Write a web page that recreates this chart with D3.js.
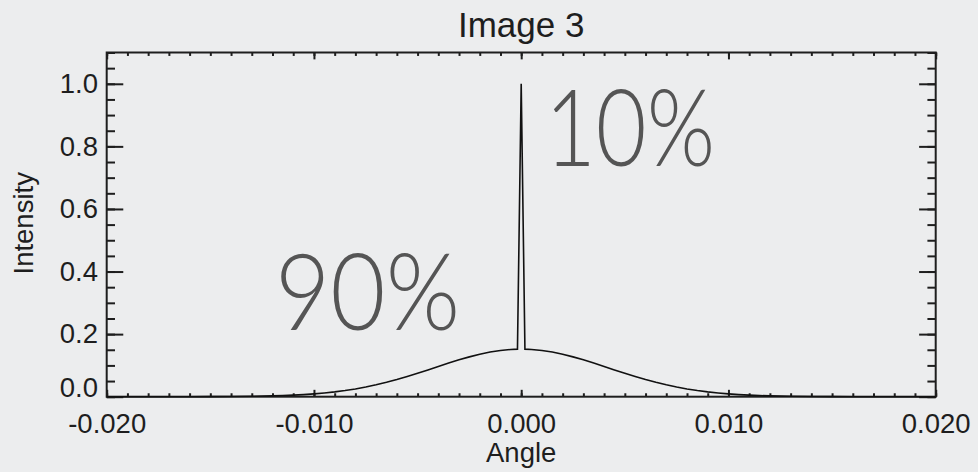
<!DOCTYPE html>
<html>
<head>
<meta charset="utf-8">
<script src="https://cdn.jsdelivr.net/npm/d3@7"></script>
<style>
  html, body { margin: 0; padding: 0; background: #ecedee; }
  svg { display: block; }
</style>
</head>
<body>
<script>
// ---- data ----
const angle = [-0.020, -0.016, -0.015, -0.014, -0.013, -0.012, -0.0115, -0.011, -0.0105, -0.010, -0.0095, -0.009, -0.0085, -0.008, -0.0075, -0.007, -0.0065, -0.006, -0.0055, -0.005, -0.0045, -0.004, -0.0035, -0.003, -0.0025, -0.002, -0.0015, -0.001, -0.0005, -0.00018, 0.0, 0.00018, 0.0005, 0.001, 0.0015, 0.002, 0.0025, 0.003, 0.0035, 0.004, 0.0045, 0.005, 0.0055, 0.006, 0.0065, 0.007, 0.0075, 0.008, 0.0085, 0.009, 0.0095, 0.010, 0.0105, 0.011, 0.0115, 0.012, 0.013, 0.014, 0.015, 0.016, 0.020];
const intensity = [0.0, 0.0, 0.0002, 0.0006, 0.0013, 0.0026, 0.0036, 0.0049, 0.0067, 0.0089, 0.0118, 0.0153, 0.0196, 0.0248, 0.0309, 0.0379, 0.0459, 0.0548, 0.0645, 0.0748, 0.0856, 0.0966, 0.1074, 0.1178, 0.1273, 0.1357, 0.1426, 0.1478, 0.1509, 0.152, 1.0, 0.152, 0.1509, 0.1478, 0.1426, 0.1357, 0.1273, 0.1178, 0.1074, 0.0966, 0.0856, 0.0748, 0.0645, 0.0548, 0.0459, 0.0379, 0.0309, 0.0248, 0.0196, 0.0153, 0.0118, 0.0089, 0.0067, 0.0049, 0.0036, 0.0026, 0.0013, 0.0006, 0.0002, 0.0, 0.0];

const xTicks = [-0.020, -0.010, 0.000, 0.010, 0.020];
const xTickLabels = ["-0.020", "-0.010", "0.000", "0.010", "0.020"];
const yTicks = [0.0, 0.2, 0.4, 0.6, 0.8, 1.0];
const yTickLabels = ["0.0", "0.2", "0.4", "0.6", "0.8", "1.0"];
const xDomain = [-0.020, 0.020];
const yDomain = [0.0, 1.1];
const xMinorStep = 0.001;
const yMinorStep = 0.05;

const titleText = "Image 3";
const xTitle = "Angle";
const yTitle = "Intensity";
const annotations = [
  { text: "10%", x: 545, y: 166, w: 170 },
  { text: "90%", x: 275, y: 330, w: 185 }
];

// ---- layout ----
const W = 978, H = 472;
const margin = { left: 106.7, right: 42.3, top: 52.5, bottom: 75.3 };
const iw = W - margin.left - margin.right;
const ih = H - margin.top - margin.bottom;
const font = "'Liberation Sans', Arial, Helvetica, sans-serif";
const ink = "#1e1e1e";

const svg = d3.select("body").append("svg").attr("width", W).attr("height", H);
svg.append("rect").attr("width", W).attr("height", H).attr("fill", "#ecedee");

const g = svg.append("g").attr("transform", `translate(${margin.left},${margin.top})`);

const x = d3.scaleLinear().domain(xDomain).range([0, iw]);
const y = d3.scaleLinear().domain(yDomain).range([ih, 0]);

const xMinor = d3.range(Math.round((xDomain[1] - xDomain[0]) / xMinorStep) + 1).map(i => xDomain[0] + i * xMinorStep);
const yMinor = d3.range(Math.round((yDomain[1] - yDomain[0]) / yMinorStep) + 1).map(i => yDomain[0] + i * yMinorStep);

const majX = 0.02 * ih, minX = majX / 2;
const majY = 0.02 * iw, minY = majY / 2;

function styleAxis(sel) {
  sel.select(".domain").remove();
  sel.selectAll(".tick line").attr("stroke", ink).attr("stroke-width", 2);
  sel.selectAll("text").attr("fill", ink).attr("font-family", font).attr("font-size", 27.5);
}

// bottom minor
g.append("g").attr("transform", `translate(0,${ih})`)
  .call(d3.axisBottom(x).tickValues(xMinor).tickSize(-minX).tickFormat(""))
  .call(styleAxis);
// bottom major with labels
g.append("g").attr("transform", `translate(0,${ih})`)
  .call(d3.axisBottom(x).tickValues(xTicks).tickSize(-majX).tickPadding(16.5)
    .tickFormat((d, i) => xTickLabels[i]))
  .call(styleAxis);
// top minor + major
g.append("g").call(d3.axisTop(x).tickValues(xMinor).tickSize(-minX).tickFormat("")).call(styleAxis);
g.append("g").call(d3.axisTop(x).tickValues(xTicks).tickSize(-majX).tickFormat("")).call(styleAxis);

// left minor + major
g.append("g").call(d3.axisLeft(y).tickValues(yMinor).tickSize(-minY).tickFormat("")).call(styleAxis);
const yl = g.append("g").call(d3.axisLeft(y).tickValues(yTicks).tickSize(-majY).tickPadding(8.7)
  .tickFormat((d, i) => yTickLabels[i])).call(styleAxis);
yl.selectAll(".tick text").filter(d => d === 0).attr("dy", "-0.02em");
// right minor + major
g.append("g").attr("transform", `translate(${iw},0)`)
  .call(d3.axisRight(y).tickValues(yMinor).tickSize(-minY).tickFormat("")).call(styleAxis);
g.append("g").attr("transform", `translate(${iw},0)`)
  .call(d3.axisRight(y).tickValues(yTicks).tickSize(-majY).tickFormat("")).call(styleAxis);

// frame
g.append("rect").attr("width", iw).attr("height", ih)
  .attr("fill", "none").attr("stroke", ink).attr("stroke-width", 2);

// annotations (behind curve)
svg.selectAll("text.anno").data(annotations).enter().append("text")
  .attr("class", "anno")
  .attr("x", d => d.x).attr("y", d => d.y)
  .attr("textLength", d => d.w).attr("lengthAdjust", "spacingAndGlyphs")
  .attr("font-family", "Lato, 'Noto Sans', sans-serif").attr("font-weight", 300)
  .attr("font-size", 107).attr("fill", "#555555")
  .text(d => d.text);

// data line
const pts = angle.map((a, i) => [a, intensity[i]]);
g.append("path").datum(pts)
  .attr("fill", "none").attr("stroke", "#111").attr("stroke-width", 1.6)
  .attr("stroke-linejoin", "miter")
  .attr("d", d3.line().x(d => x(d[0])).y(d => y(d[1])));

// titles
svg.append("text").attr("x", margin.left + iw / 2).attr("y", 36.7)
  .attr("text-anchor", "middle").attr("font-family", font).attr("font-size", 35)
  .attr("fill", ink).text(titleText);
svg.append("text").attr("x", margin.left + iw / 2).attr("y", 462)
  .attr("text-anchor", "middle").attr("font-family", font).attr("font-size", 27.5)
  .attr("fill", ink).text(xTitle);
svg.append("text").attr("transform", "translate(33.3,223.3) rotate(-90)")
  .attr("text-anchor", "middle").attr("font-family", font).attr("font-size", 27.5)
  .attr("fill", ink).text(yTitle);
</script>
</body>
</html>
